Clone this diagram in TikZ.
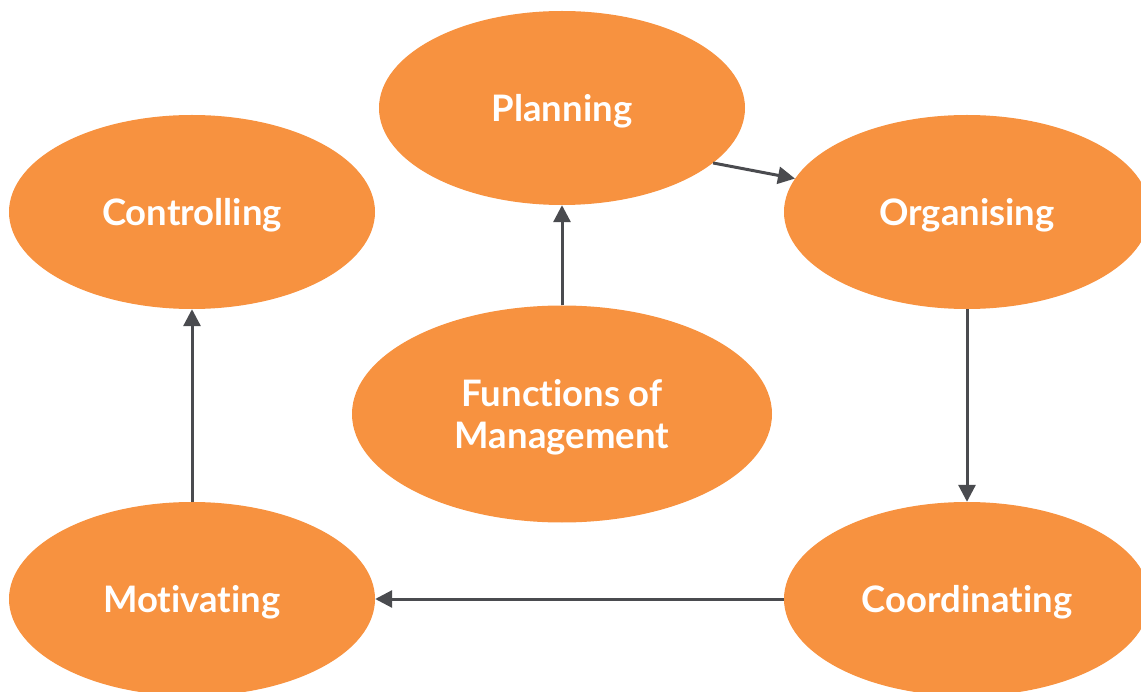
\documentclass[tikz,border=0pt]{standalone}
\usepackage{fontspec}
\setmainfont[Ligatures=NoCommon]{Lato}
\usetikzlibrary{shapes.geometric,arrows.meta}
\definecolor{orng}{HTML}{F79240}
\definecolor{arrgray}{HTML}{4A4B4F}
\tikzset{
  blob/.style={ellipse, fill=orng, draw=none, inner sep=0pt, minimum width=366pt, minimum height=194pt,
    text=white, font=\fontsize{36.5}{42}\selectfont\bfseries, align=center, text depth=0pt},
  conn/.style={draw=arrgray, line width=3pt, -{Triangle[length=17pt,width=17pt]}}
}
\begin{document}
\begin{tikzpicture}[x=1pt,y=-1pt]
\useasboundingbox (0,0) rectangle (1141,692);
\node[blob] (plan) at (562,108) {Planning};
\node[blob] (ctrl) at (192,212) {Controlling};
\node[blob] (org) at (967,212) {Organising};
\node[blob, minimum width=420pt, minimum height=217pt] (func) at (562,414) {Functions of\\Management};
\node[blob] (mot) at (192,599) {Motivating};
\node[blob] (coord) at (967,599) {Coordinating};
\draw[conn] (func.north) -- (plan.south);
\draw[conn] (plan.-20) -- (org.169.5);
\draw[conn] (org.south) -- (coord.north);
\draw[conn] (coord.west) -- (mot.east);
\draw[conn] (mot.north) -- (ctrl.south);
\end{tikzpicture}
\end{document}
